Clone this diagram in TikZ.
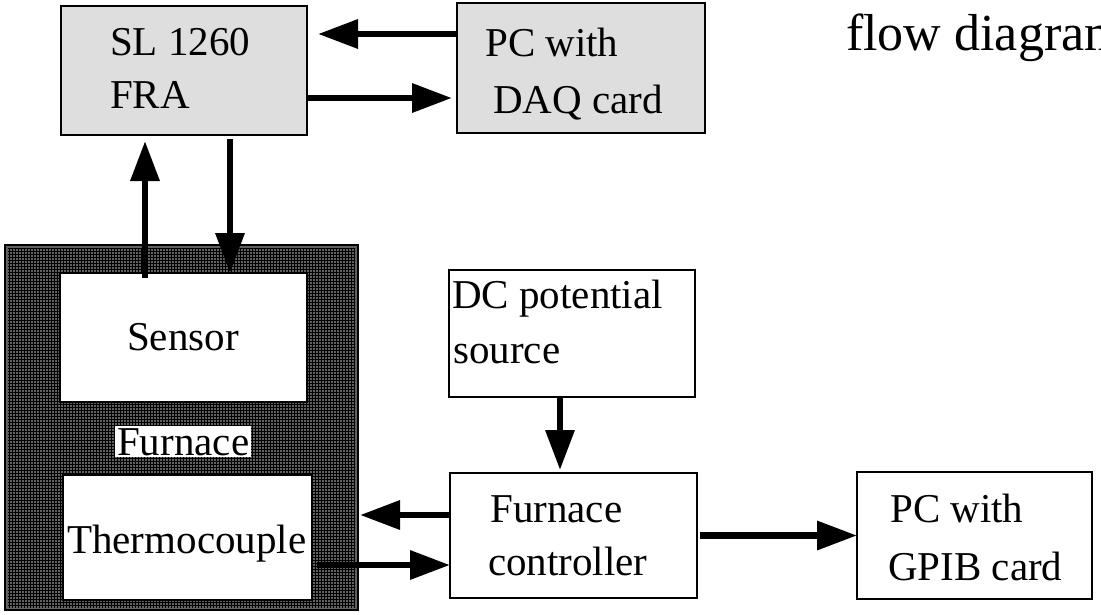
\documentclass[tikz,border=0pt]{standalone}
\usepackage{fontspec}
\setmainfont{Liberation Serif}
\usetikzlibrary{arrows.meta,patterns}
\begin{document}
\begin{tikzpicture}[x=1pt,y=-1pt,
  box/.style={draw=black,line width=2.2pt,fill=white,inner sep=0pt,outer sep=0pt},
  shadebox/.style={box,fill=black!13},
  lbl/.style={anchor=base west,inner sep=0pt,font=\fontsize{41}{44}\selectfont},
  arr/.style={line width=6.5pt,-{Triangle[length=40pt,width=28pt]}}]
\useasboundingbox (0,0) rectangle (1101,614);
% boxes
\node[shadebox,minimum width=246pt,minimum height=129pt] (sl) at (184,70.5) {};
\node[shadebox,minimum width=248pt,minimum height=130pt] (daq) at (581,68) {};
\node[box,fill=black!62,line width=1.4pt,minimum width=353pt,minimum height=365pt] (furnace) at (181.5,427.5) {};
\fill[pattern=grid,pattern color=black] ([shift={(3pt,-3pt)}]furnace.north west) rectangle ([shift={(-3pt,3pt)}]furnace.south east);
\node[box,minimum width=247pt,minimum height=129pt] (sensor) at (183.5,337.5) {};
\node[box,minimum width=249pt,minimum height=125pt] (thermo) at (187.5,537.5) {};
\node[box,minimum width=246pt,minimum height=127pt] (dc) at (572,333.5) {};
\node[box,minimum width=247pt,minimum height=125pt] (ctrl) at (573.5,535.5) {};
\node[box,minimum width=235pt,minimum height=127pt] (gpib) at (974.5,535.5) {};
% texts
\node[lbl] (t1) at (110,55) {SL 1260};
\node[lbl] (t2) at (110,108) {FRA};
\node[lbl] (t3) at (485,56) {PC with};
\node[lbl] (t4) at (493,113) {DAQ card};
\node[lbl] (t5) at (127,350) {Sensor};
\node[lbl,fill=white,inner sep=2pt] (t6) at (115,455) {Furnace};
\node[lbl] (t7) at (67,553) {Thermocouple};
\node[lbl] (t8) at (452,308) {DC potential};
\node[lbl] (t9) at (453,363) {source};
\node[lbl] (t10) at (490,522) {Furnace};
\node[lbl] (t11) at (488,575) {controller};
\node[lbl] (t12) at (890,522) {PC with};
\node[lbl] (t13) at (888,580) {GPIB card};
\node[anchor=base west,inner sep=0pt,font=\fontsize{52}{56}\selectfont] (title) at (846,50) {flow diagram};
% connectors
\draw[arr] ([yshift=34pt]daq.west) -- ([xshift=11pt,yshift=36.5pt]sl.east);
\draw[arr] ([yshift=-27.5pt]sl.east) -- ([xshift=-5pt,yshift=-30pt]daq.west);
\draw[arr] ([xshift=-38.5pt,yshift=-5pt]sensor.north) -- ([xshift=-39pt,yshift=-6pt]sl.south);
\draw[arr] ([xshift=46pt,yshift=-4pt]sl.south) -- ([xshift=46.5pt]sensor.north);
\draw[arr] ([xshift=-12pt]dc.south) -- ([xshift=-13.5pt,yshift=3pt]ctrl.north);
\draw[arr] ([yshift=20.5pt]ctrl.west) -- ([xshift=2pt,yshift=-87.5pt]furnace.east);
\draw[arr] ([xshift=5pt,yshift=-27.5pt]thermo.east) -- ([yshift=-29.5pt]ctrl.west);
\draw[arr] ([xshift=3pt]ctrl.east) -- (gpib.west);
\end{tikzpicture}
\end{document}
